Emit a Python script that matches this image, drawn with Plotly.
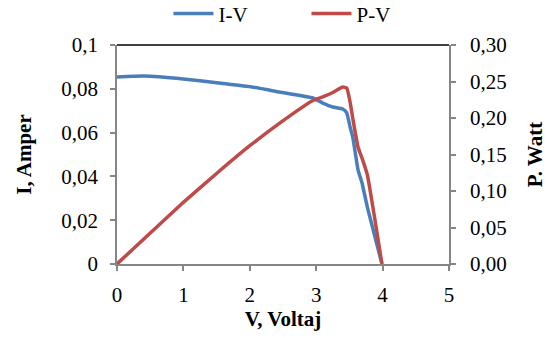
import plotly.graph_objects as go

voltage = [0, 0.4, 1.0, 1.5, 2.0, 2.45, 2.95, 3.1, 3.25, 3.4, 3.46, 3.51, 3.55, 3.63, 3.69, 3.77, 3.99]
current = [0.0854, 0.0858, 0.0845, 0.0828, 0.081, 0.0785, 0.0758, 0.0735, 0.0717, 0.0708, 0.069, 0.0626, 0.058, 0.043, 0.037, 0.026, 0]
power = [0, 0.034, 0.0845, 0.124, 0.162, 0.193, 0.224, 0.229, 0.235, 0.2425, 0.241, 0.222, 0.2, 0.16, 0.145, 0.122, 0]

left_ticks = [0, 0.02, 0.04, 0.06, 0.08, 0.1]
left_labels = ["0", "0,02", "0,04", "0,06", "0,08", "0,1"]

font_family = "Liberation Serif"
blue = "#4A7EBB"
red = "#BE4B48"
grey = "#868686"
tick_font = dict(family=font_family, size=21, color="black")
title_font = dict(family=font_family, size=21, color="black")

fig = go.Figure()
fig.add_trace(go.Scatter(x=voltage, y=current, name="I-V", mode="lines",
                         line=dict(color=blue, width=3.5, shape="spline", smoothing=0.4)))
fig.add_trace(go.Scatter(x=voltage, y=power, name="P-V", mode="lines", yaxis="y2",
                         line=dict(color=red, width=3.5, shape="spline", smoothing=0.4)))

fig.update_layout(
    width=547, height=338,
    margin=dict(l=117, r=98, t=45, b=74, autoexpand=False),
    paper_bgcolor="white", plot_bgcolor="white",
    separators=",.",
    font=dict(family=font_family, size=21, color="black"),
    showlegend=True,
    legend=dict(orientation="h", x=0.155, xanchor="left", y=1.142, yanchor="middle",
                yref="paper", font=dict(family=font_family, size=21),
                itemwidth=40, entrywidth=83, entrywidthmode="pixels",
                bgcolor="rgba(0,0,0,0)"),
    xaxis=dict(range=[0, 5], tickvals=[0, 1, 2, 3, 4, 5], showgrid=False, zeroline=False,
               showline=True, linecolor=grey, linewidth=1.5, ticks="outside", ticklen=5,
               tickcolor=grey, tickwidth=1.5, tickfont=tick_font, ticklabelstandoff=6,
               title=dict(text="<b>V, Voltaj</b>", font=title_font, standoff=4)),
    yaxis=dict(range=[0, 0.1], tickvals=left_ticks, ticktext=left_labels, showgrid=False,
               zeroline=False, showline=True, linecolor=grey, linewidth=1.5, ticks="outside",
               ticklen=5, tickcolor=grey, tickwidth=1.5, tickfont=tick_font,
               ticklabelstandoff=8,
               title=dict(text="<b>I, Amper</b>", font=title_font, standoff=24)),
    yaxis2=dict(range=[0, 0.3], overlaying="y", side="right", tickformat=".2f", dtick=0.05,
                tick0=0, showgrid=False, zeroline=False, showline=True, linecolor=grey,
                linewidth=1.5, ticks="outside", ticklen=5, tickcolor=grey, tickwidth=1.5,
                tickfont=tick_font, ticklabelstandoff=10,
                title=dict(text="<b>P. Watt</b>", font=title_font, standoff=26)),
    shapes=[dict(type="line", xref="paper", yref="paper", x0=0, x1=1, y0=1, y1=1,
                 line=dict(color="black", width=1.5))],
)

fig.write_html("out.html")
